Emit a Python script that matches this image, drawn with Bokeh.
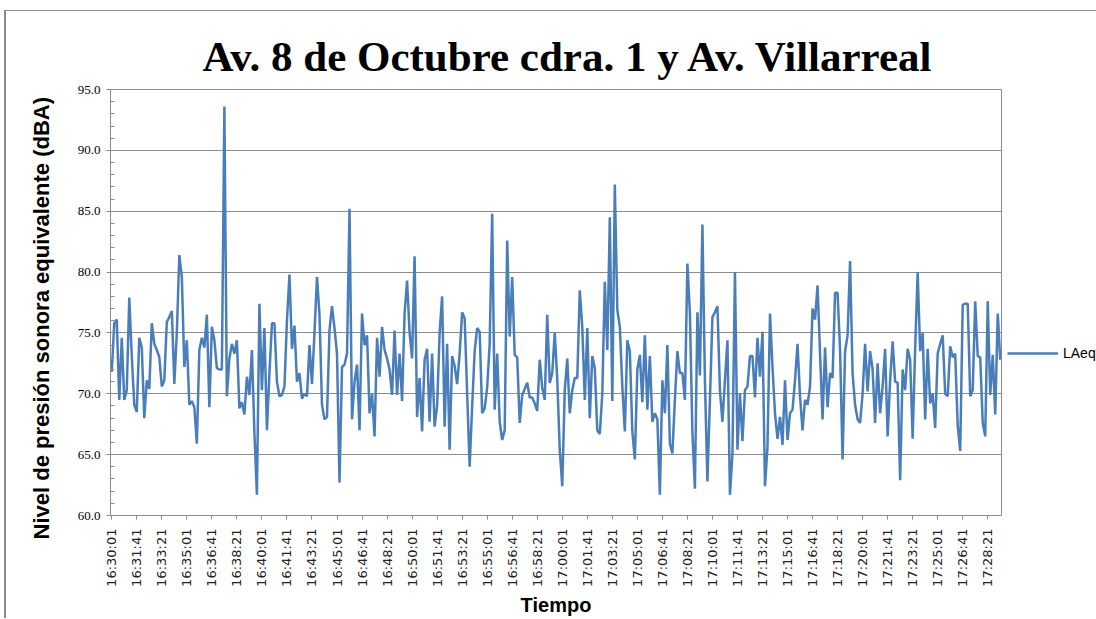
import math
from bokeh.plotting import figure
from bokeh.layouts import row
from bokeh.models import Range1d, FixedTicker, Legend, LegendItem, Title
from bokeh.embed import file_html
from bokeh.resources import INLINE

TITLE = "Av. 8 de Octubre cdra. 1 y Av. Villarreal"
Y_LABEL = "Nivel de presión sonora equivalente (dBA)"
X_LABEL = "Tiempo"
SERIES_NAME = "LAeq"

TIME_LABELS = [
    "16:30:01", "16:31:41", "16:33:21", "16:35:01", "16:36:41", "16:38:21",
    "16:40:01", "16:41:41", "16:43:21", "16:45:01", "16:46:41", "16:48:21",
    "16:50:01", "16:51:41", "16:53:21", "16:55:01", "16:56:41", "16:58:21",
    "17:00:01", "17:01:41", "17:03:21", "17:05:01", "17:06:41", "17:08:21",
    "17:10:01", "17:11:41", "17:13:21", "17:15:01", "17:16:41", "17:18:21",
    "17:20:01", "17:21:41", "17:23:21", "17:25:01", "17:26:41", "17:28:21",
]

Y_TICKS = [60, 65, 70, 75, 80, 85, 90, 95]
Y_TICK_LABELS = ["60.0", "65.0", "70.0", "75.0", "80.0", "85.0", "90.0", "95.0"]

LAEQ_PART1 = [
    71.8, 75.8, 76.1, 69.5, 74.6, 69.5, 70.3, 77.9, 73.1, 69.1,
    68.5, 74.6, 73.8, 68.0, 71.1, 70.4, 75.8, 74.1, 73.6, 73.0,
    70.6, 71.1, 75.9, 76.3, 76.8, 70.8, 75.0, 81.4, 79.6, 72.2,
    74.4, 69.1, 69.4, 68.9, 65.9, 73.6, 74.6, 73.8, 76.5, 68.9,
    75.5, 74.4, 72.1, 72.0, 72.0, 93.6, 69.8, 72.9, 74.1, 73.3,
    74.4, 68.8, 69.3, 68.3, 71.4, 69.9, 73.6, 66.8, 61.7, 77.4,
]
LAEQ_PART2 = [
    70.3, 75.4, 67.0, 71.7, 75.8, 75.8, 71.0, 69.8, 69.9, 70.6,
    76.0, 79.8, 73.7, 75.6, 71.0, 71.7, 69.6, 70.0, 69.8, 74.0,
    70.8, 75.0, 79.6, 76.5, 69.1, 67.9, 68.1, 75.2, 77.2, 75.4,
    73.3, 62.7, 72.2, 72.4, 73.3, 85.2, 67.9, 71.0, 72.4, 67.0,
    76.6, 74.0, 74.8, 68.4, 70.0, 66.5, 74.6, 71.4, 75.5, 73.6,
    72.9, 72.0, 69.9, 75.2, 69.9, 73.3, 69.4, 76.6, 79.3, 75.0,
]
LAEQ_PART3 = [
    72.9, 81.3, 68.1, 71.3, 66.9, 72.8, 73.7, 67.7, 73.3, 67.3,
    69.0, 75.0, 78.0, 67.3, 74.1, 65.4, 73.1, 72.3, 70.8, 73.3,
    76.7, 76.2, 70.0, 64.0, 69.0, 73.5, 75.4, 75.1, 68.4, 68.8,
    70.5, 74.1, 84.8, 68.7, 73.3, 67.7, 66.2, 67.0, 82.6, 74.7,
    79.6, 73.2, 73.0, 67.6, 69.9, 70.4, 70.9, 69.7, 69.7, 69.2,
    68.6, 72.8, 70.5, 69.5, 76.5, 70.9, 71.7, 75.0, 71.2, 65.4,
]
LAEQ_PART4 = [
    62.4, 70.3, 72.9, 68.4, 70.3, 71.3, 71.3, 78.5, 75.5, 69.5,
    75.4, 68.0, 73.1, 72.1, 67.0, 66.7, 70.0, 79.2, 73.6, 84.5,
    69.4, 87.2, 76.9, 75.5, 70.6, 66.9, 74.4, 73.5, 66.9, 64.6,
    72.0, 73.2, 69.3, 74.8, 68.7, 73.1, 67.7, 68.4, 67.9, 61.7,
    71.1, 68.4, 74.0, 65.9, 65.1, 69.5, 73.5, 71.7, 71.7, 69.5,
    80.7, 76.6, 66.8, 62.2, 76.7, 71.5, 83.9, 71.1, 62.8,
]
LAEQ_PART5 = [
    69.5, 76.3, 76.7, 77.2, 70.3, 67.7, 71.1, 74.4, 61.7, 65.1,
    80.0, 65.4, 70.0, 66.1, 70.3, 70.6, 73.1, 73.1, 69.7, 74.6,
    71.4, 75.1, 62.4, 65.6, 76.6, 72.2, 68.4, 66.3, 68.1, 65.8,
    71.1, 66.2, 68.4, 68.7, 71.1, 74.1, 69.8, 67.0, 69.5, 69.1,
    70.6, 77.0, 76.1, 78.9, 73.3, 67.9, 73.8, 68.9, 71.7, 71.3,
    78.3, 78.3, 73.6, 64.6, 73.5, 74.8, 80.9, 71.7, 69.1, 67.9,
    67.6,
]
LAEQ_PART6 = [
    70.0, 74.1, 70.2, 73.5, 72.0, 67.6, 72.5, 68.4, 70.6, 73.7,
    66.5, 71.1, 74.3, 71.0, 70.9, 62.9, 72.0, 70.3, 73.7, 72.8,
    66.3, 73.7, 80.0, 73.5, 75.0, 67.9, 73.7, 69.2, 70.0, 67.2,
    73.3, 74.1, 74.8, 70.0, 69.8, 73.9, 73.0, 73.3, 67.4, 65.3,
    77.3, 77.4, 77.4, 69.8, 70.3, 77.6, 73.1, 73.0, 67.6, 66.5,
    77.6, 69.9, 73.2, 68.3, 76.6, 72.8,
]

LAEQ = LAEQ_PART1 + LAEQ_PART2 + LAEQ_PART3 + LAEQ_PART4 + LAEQ_PART5 + LAEQ_PART6
N = len(LAEQ)
X = list(range(N))

GRAY = "#8c8c8c"
LINE_COLOR = "#4a7ebb"
H = 607

p = figure(
    width=997, height=H,
    output_backend="svg", toolbar_location=None,
    x_range=Range1d(-0.5, N - 0.5), y_range=Range1d(60, 95),
    min_border_left=102, min_border_right=2, min_border_top=78, min_border_bottom=102,
)

p.title.text = TITLE
p.title.align = "left"
p.title.offset = 92
p.title.text_font = "Liberation Serif"
p.title.text_font_size = "43px"
p.title.text_font_style = "bold"
p.title.text_color = "#000000"
p.title.standoff = 20

p.outline_line_color = GRAY
p.outline_line_width = 1
p.background_fill_color = "white"
p.border_fill_color = "white"

p.xgrid.grid_line_color = None
p.ygrid.grid_line_color = GRAY
p.ygrid.grid_line_width = 1

r = p.line(X, LAEQ, line_color=LINE_COLOR, line_width=2.5)

# Y axis
ya = p.yaxis[0]
ya.ticker = FixedTicker(ticks=Y_TICKS, minor_ticks=list(range(Y_TICKS[0], Y_TICKS[-1] + 1)))
ya.major_label_overrides = {t: s for t, s in zip(Y_TICKS, Y_TICK_LABELS)}
ya.major_label_text_font = "Liberation Serif"
ya.major_label_text_font_size = "13px"
ya.major_label_text_color = "#000000"
ya.major_label_standoff = 6
ya.axis_line_color = GRAY
ya.major_tick_line_color = GRAY
ya.major_tick_out = 4
ya.major_tick_in = 0
ya.minor_tick_line_color = GRAY
ya.minor_tick_in = 4
ya.minor_tick_out = 0

# Y axis title as a side title (allows shifting it along the axis like the reference)
ytitle = Title(
    text=Y_LABEL, align="left", offset=-24, standoff=41,
    text_font="Liberation Sans", text_font_size="22px", text_font_style="bold",
    text_color="#000000",
)
p.add_layout(ytitle, "left")

# X axis
xa = p.xaxis[0]
xa.ticker = FixedTicker(ticks=[10 * i for i in range(len(TIME_LABELS))], minor_ticks=[])
xa.major_label_overrides = {10 * i: s for i, s in enumerate(TIME_LABELS)}
xa.major_label_orientation = math.pi / 2
xa.major_label_text_font = "DejaVu Sans"
xa.major_label_text_font_size = "13px"
xa.major_label_text_color = "#222222"
xa.major_label_standoff = 9
xa.axis_line_color = GRAY
xa.major_tick_line_color = GRAY
xa.major_tick_out = 4
xa.major_tick_in = 0
xa.minor_tick_line_color = None
xa.axis_label = X_LABEL
xa.axis_label_text_font = "Liberation Sans"
xa.axis_label_text_font_size = "20px"
xa.axis_label_text_font_style = "bold"
xa.axis_label_text_color = "#000000"
xa.axis_label_standoff = 4

# Legend panel (separate narrow figure so the legend is not clipped by the main frame)
p2 = figure(
    width=93, height=H,
    output_backend="svg", toolbar_location=None,
    x_axis_type=None, y_axis_type=None,
    x_range=Range1d(0, 1), y_range=Range1d(0, 1),
    min_border_left=0, min_border_right=0, min_border_top=0, min_border_bottom=0,
)
p2.outline_line_color = None
p2.grid.grid_line_color = None
p2.background_fill_color = "white"
p2.border_fill_color = "white"
# same series, drawn outside this panel's visible range: only its legend entry shows
r2 = p2.line(X, LAEQ, line_color=LINE_COLOR, line_width=2.5)

legend = Legend(
    items=[LegendItem(label=SERIES_NAME, renderers=[r2])],
    location=(4, 152),
    glyph_width=51, glyph_height=20, label_height=20,
    label_standoff=5, padding=0, margin=0, spacing=0,
    label_text_font="Liberation Sans", label_text_font_size="14px",
    label_text_color="#000000",
    border_line_color=None, background_fill_alpha=0,
)
p2.add_layout(legend)

layout = row(p, p2)
layout.spacing = 0
layout.styles = {
    "margin-left": "4px", "margin-top": "10px",
    "border-top": "1px solid #8c8c8c", "border-left": "2px solid #8c8c8c",
}

open("out.html", "w").write(file_html(layout, INLINE))
